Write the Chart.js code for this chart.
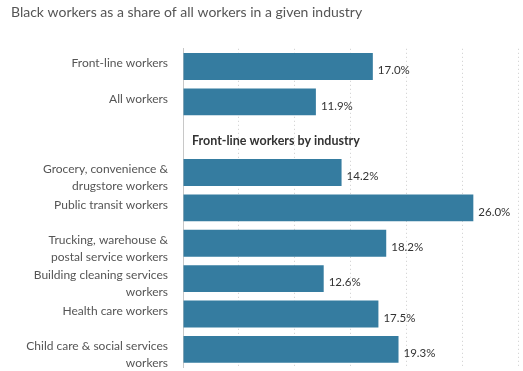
<!DOCTYPE html>
<html>
<head>
<meta charset="utf-8">
<script src="https://cdn.jsdelivr.net/npm/chart.js@4"></script>
<style>
  html, body { margin: 0; padding: 0; background: #fff; }
</style>
</head>
<body>
<canvas id="chart" width="523" height="371"></canvas>
<script>
// rows top to bottom; the empty row holds the section heading
const labels = [
  'Front-line workers',
  'All workers',
  '',
  ['Grocery, convenience &', 'drugstore workers'],
  'Public transit workers',
  ['Trucking, warehouse &', 'postal service workers'],
  ['Building cleaning services', 'workers'],
  'Health care workers',
  ['Child care & social services', 'workers']
];
const shares = [17.0, 11.9, null, 14.2, 26.0, 18.2, 12.6, 17.5, 19.3];
const sectionTitle = 'Front-line workers by industry';
const sectionRow = 2;

const font = 'Lato, "Open Sans", sans-serif';

// percent labels at the end of each bar + the section heading
const barLabels = {
  id: 'barLabels',
  afterDatasetsDraw(chart) {
    const ctx = chart.ctx;
    const meta = chart.getDatasetMeta(0);
    ctx.save();
    ctx.font = '11.5px ' + font;
    ctx.fillStyle = '#333';
    ctx.textBaseline = 'middle';
    ctx.textAlign = 'left';
    meta.data.forEach((bar, i) => {
      if (shares[i] == null) return;
      ctx.fillText(shares[i].toFixed(1) + '%', bar.x + 5, bar.y + 4);
    });
    ctx.font = 'bold 12.5px ' + font;
    ctx.fillText(sectionTitle, chart.chartArea.left + 9, chart.scales.y.getPixelForValue(sectionRow) + 4);
    ctx.restore();
  }
};

new Chart(document.getElementById('chart'), {
  type: 'bar',
  data: {
    labels: labels,
    datasets: [{
      data: shares,
      backgroundColor: '#357ca0',
      borderWidth: 0,
      barPercentage: 0.76,
      categoryPercentage: 1
    }]
  },
  options: {
    indexAxis: 'y',
    responsive: false,
    animation: false,
    layout: { padding: { left: 11, right: 5, bottom: 4 } },
    plugins: {
      legend: { display: false },
      tooltip: { enabled: false },
      title: {
        display: true,
        text: 'Black workers as a share of all workers in a given industry',
        align: 'start',
        color: '#555',
        font: { family: font, size: 14, weight: 'normal' },
        padding: { top: 4, bottom: 28 }
      }
    },
    scales: {
      x: {
        min: 0,
        max: 30,
        afterFit(scale) { scale.height = 0; },
        ticks: { display: false, stepSize: 5 },
        border: { display: false, dash: [1, 3] },
        grid: { color: '#cccccc', drawTicks: false }
      },
      y: {
        afterFit(scale) {
          scale.width = 172;
          scale.paddingTop = 0;
          scale.paddingBottom = 0;
        },
        ticks: {
          color: '#555',
          font: { family: font, size: 12, lineHeight: 1.4 },
          padding: 7,
          labelOffset: -3,
          autoSkip: false,
          // two-line labels hang from the top line instead of centring
          callback(value) {
            const l = this.getLabelForValue(value);
            return Array.isArray(l) ? [''].concat(l) : l;
          }
        },
        grid: { display: false },
        border: { display: true, color: '#c8c8c8', width: 1 }
      }
    }
  },
  plugins: [barLabels]
});
</script>
</body>
</html>
